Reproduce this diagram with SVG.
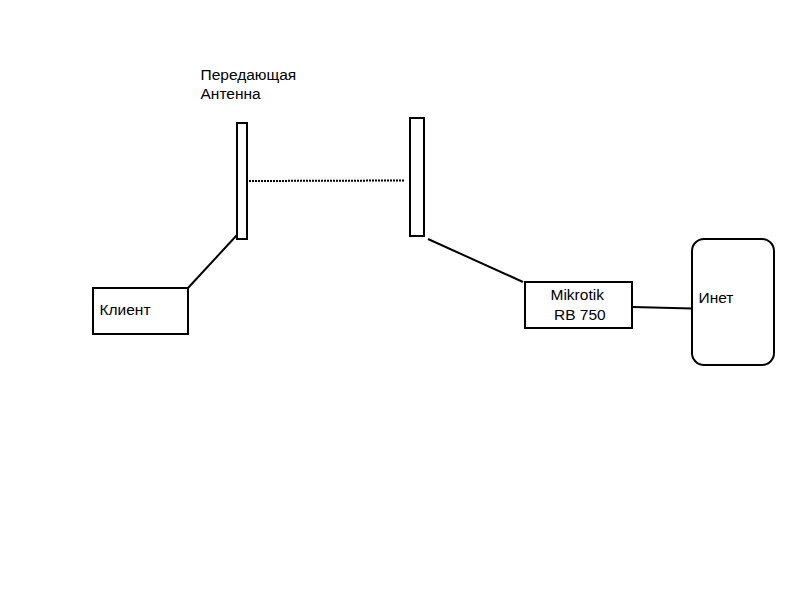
<svg xmlns="http://www.w3.org/2000/svg" width="800" height="600" viewBox="0 0 800 600">
<style>
.box{fill:#fff;stroke:#000;stroke-width:2}
.ln{fill:none;stroke:#000;stroke-width:2}
.dot{fill:none;stroke:#000;stroke-width:2;stroke-dasharray:2 1}
text{font-family:"Liberation Sans",Arial,sans-serif;font-size:15.5px;fill:#000}
</style>
<rect width="800" height="600" fill="#fff"/>
<g id="connectors">
<line class="dot" x1="249" y1="181" x2="404" y2="180.5"/>
<line class="ln" x1="188" y1="288" x2="237" y2="235"/>
<line class="ln" x1="428" y1="239" x2="523" y2="282"/>
<line class="ln" x1="633" y1="307" x2="692" y2="308.5"/>
</g>
<g id="label-antenna">
<text x="200.5" y="80">Передающая</text>
<text x="200.5" y="99">Антенна</text>
</g>
<g id="antenna1">
<rect class="box" x="237" y="123" width="10" height="116"/>
</g>
<g id="antenna2">
<rect class="box" x="410" y="118" width="14" height="118"/>
</g>
<g id="client">
<rect class="box" x="93" y="288" width="95" height="46"/>
<text x="99.5" y="315">Клиент</text>
</g>
<g id="mikrotik">
<rect class="box" x="525" y="282" width="107" height="46"/>
<text x="550.5" y="300">Mikrotik</text>
<text x="554" y="320">RB 750</text>
</g>
<g id="inet">
<rect class="box" x="692" y="239" width="82" height="126" rx="12" ry="12"/>
<text x="698.5" y="303">Инет</text>
</g>
</svg>
